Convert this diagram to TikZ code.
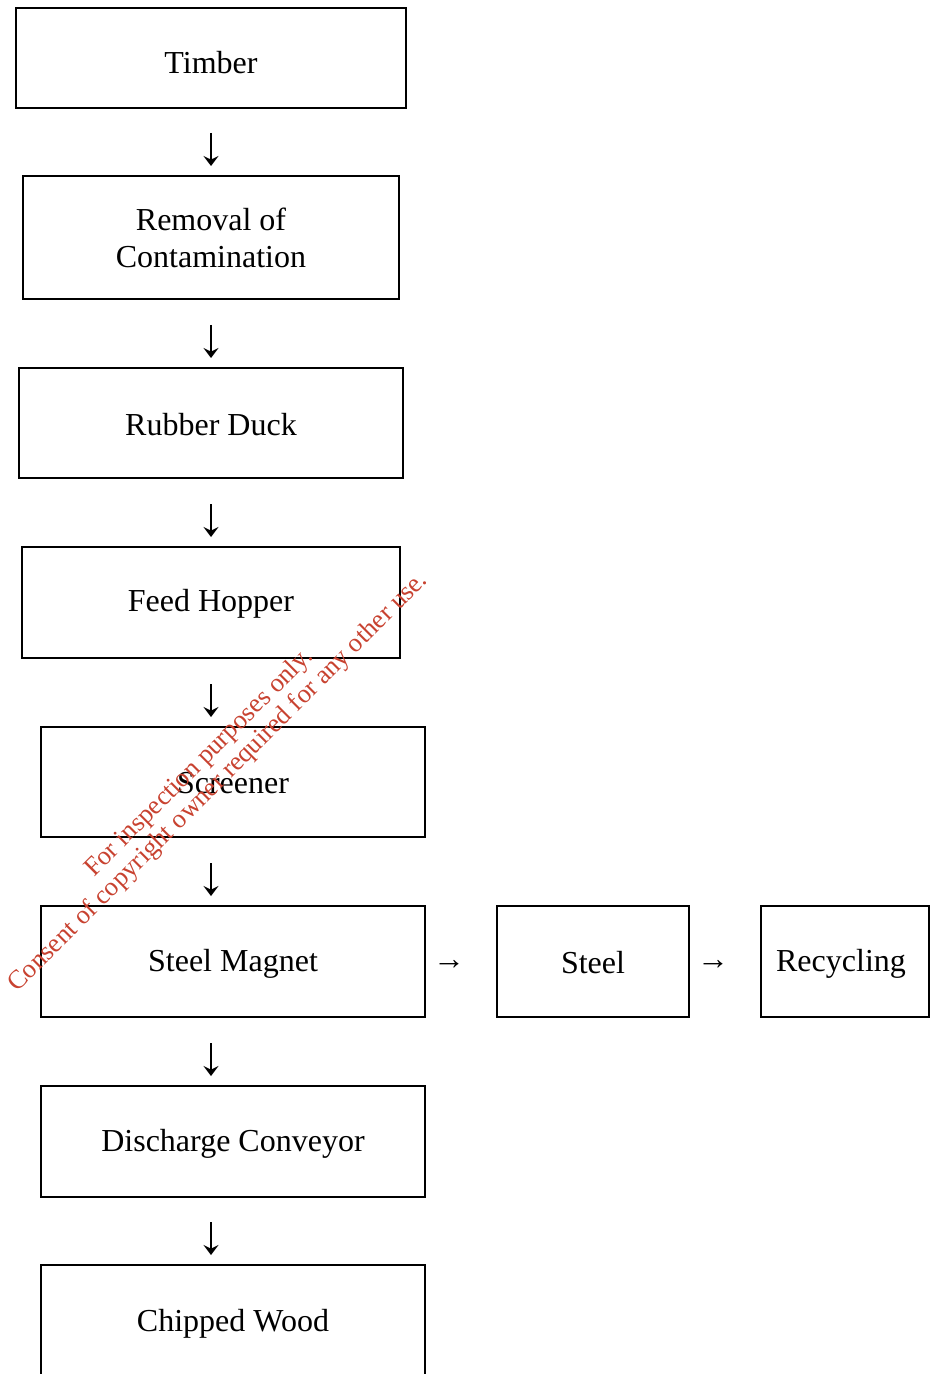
\documentclass[tikz,border=0pt]{standalone}
\usepackage{fontspec}
\setmainfont{Liberation Serif}
\usetikzlibrary{arrows.meta}
\definecolor{wm}{RGB}{200,66,48}
\tikzset{
  box/.style={draw, line width=1pt, inner sep=0pt},
  lbl/.style={inner sep=0pt, align=center, font=\fontsize{16}{18.5}\selectfont},
  glyph/.style={inner sep=0pt, font=\fontsize{16}{18}\selectfont},
  down/.style={line width=0.7pt, -{Stealth[length=5pt,width=7.5pt,inset=1.8pt]}},
  watermark/.style={text=wm, align=center, rotate=45, inner sep=0pt, font=\fontsize{13.2}{13.5}\selectfont}
}
\begin{document}
\begin{tikzpicture}[x=0.5pt,y=-0.5pt]
\useasboundingbox (0,0) rectangle (939,1374);
\node[box, minimum width=195pt, minimum height=50pt] (timber) at (211,58) {};
\node[lbl] (timberlbl) at (211,63) {Timber};
\node[box, minimum width=188pt, minimum height=61.5pt] (removal) at (211,237.5) {};
\node[lbl] (removallbl) at (211,238) {Removal of\\Contamination};
\node[box, minimum width=192pt, minimum height=55pt] (rubber) at (211,423) {};
\node[lbl] (rubberlbl) at (211,424.5) {Rubber Duck};
\node[box, minimum width=189pt, minimum height=55.5pt] (feed) at (211,602.5) {};
\node[lbl] (feedlbl) at (211,604) {Feed Hopper};
\node[box, minimum width=192pt, minimum height=55pt] (screener) at (233,782) {};
\node[lbl] (screenerlbl) at (233,783) {Screener};
\node[box, minimum width=192pt, minimum height=55.5pt] (magnet) at (233,961.5) {};
\node[lbl] (magnetlbl) at (233,964) {Steel Magnet};
\node[box, minimum width=96pt, minimum height=55.5pt] (steel) at (593,961.5) {};
\node[lbl] (steellbl) at (593,962.5) {Steel};
\node[box, minimum width=84pt, minimum height=55.5pt] (recycling) at (845,961.5) {};
\node[lbl] (recyclinglbl) at (841,964) {Recycling};
\node[box, minimum width=192pt, minimum height=55.5pt] (discharge) at (233,1141.5) {};
\node[lbl] (dischargelbl) at (233,1144) {Discharge Conveyor};
\node[box, minimum width=192pt, minimum height=77.5pt] (chipped) at (233,1342.5) {};
\node[lbl] (chippedlbl) at (233,1323.5) {Chipped Wood};
\foreach \c [count=\i] in {150,342,521,701,880,1060,1239}{
  \coordinate (d\i a) at (211,\c-17);
  \coordinate (d\i b) at (211,\c+16);
  \draw[down] (d\i a) -- (d\i b);
}
\node[glyph] (r1) at (449,965) {→};
\node[glyph] (r2) at (713,965) {→};
\node[watermark] (wmark) at (209,773) {For inspection purposes only.\\Consent of copyright owner required for any other use.};
\end{tikzpicture}
\end{document}
